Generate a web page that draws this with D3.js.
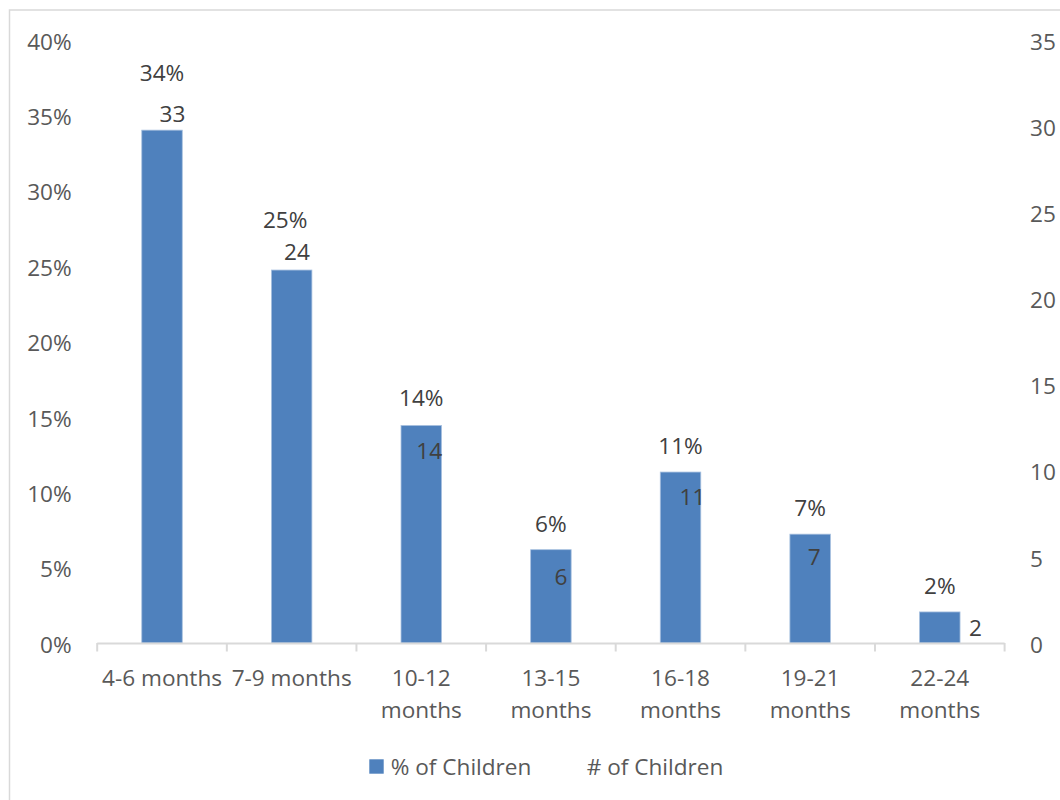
<!DOCTYPE html>
<html>
<head>
<meta charset="utf-8">
<script src="https://cdn.jsdelivr.net/npm/d3@7"></script>
<style>
  html, body { margin: 0; padding: 0; background: #ffffff; }
  svg { display: block; font-family: "Open Sans", sans-serif; }
</style>
</head>
<body>
<svg id="chart" width="1060" height="800"></svg>
<script>
// ---- data ----
const categories = ["4-6 months", "7-9 months", "10-12 months", "13-15 months", "16-18 months", "19-21 months", "22-24 months"];
const pctChildren = [0.3402, 0.2474, 0.1443, 0.0619, 0.1134, 0.0722, 0.0206];
const numChildren = [33, 24, 14, 6, 11, 7, 2];
const leftTicks = [0, 0.05, 0.10, 0.15, 0.20, 0.25, 0.30, 0.35, 0.40];
const rightTicks = [0, 5, 10, 15, 20, 25, 30, 35];
const seriesNames = ["% of Children", "# of Children"];

// ---- layout ----
const L = 97.2, R = 1004.6, T = 40, B = 643;
const barColor = "#4f81bd";
const axisColor = "#d9d9d9";
const tickText = "#595959";
const labelText = "#404040";
const fontSize = 22.6;
// label nudges (pixels relative to bar top / bar centre), as placed in the original
const pctLabelDx = [0, -6.5, 0, 0, 0, 0, 0];
const pctLabelDy = [-56.8, -50, -27.2, -26, -26.3, -26.5, -26.2];
const cntLabelDx = [10.5, 5.4, 7.9, 10.1, 12, 4.1, 35.7];
const cntLabelDy = [-15.8, -18.3, 25.2, 27.3, 24.7, 23.1, 15.8];

const svg = d3.select("#chart");

// outer border
svg.append("rect").attr("x", 9.5).attr("y", 10).attr("width", 1070).attr("height", 800)
  .attr("fill", "none").attr("stroke", axisColor).attr("stroke-width", 1.5);

const step = (R - L) / categories.length;
const barW = 40.5;
const x = d3.scaleBand().domain(categories).range([L, R])
  .paddingInner(1 - barW / step).paddingOuter((1 - barW / step) / 2);
const yL = d3.scaleLinear().domain([0, 0.4]).range([B, T]);
const yR = d3.scaleLinear().domain([0, 35]).range([B, T]);

// left axis labels
const leftAxis = d3.axisLeft(yL).tickValues(leftTicks).tickFormat(d3.format(".0%")).tickSize(0).tickPadding(0);
const gl = svg.append("g").attr("transform", `translate(${71.7},2)`).call(leftAxis);
gl.select(".domain").remove();
gl.selectAll("text").attr("fill", tickText).style("font-size", fontSize + "px").style("font-family", "Open Sans");

// right axis labels
const rightAxis = d3.axisRight(yR).tickValues(rightTicks).tickFormat(d3.format("d")).tickSize(0).tickPadding(0);
const gr = svg.append("g").attr("transform", `translate(${1030},2)`).call(rightAxis);
gr.select(".domain").remove();
gr.selectAll("text").attr("fill", tickText).style("font-size", fontSize + "px").style("font-family", "Open Sans");

// bars
svg.append("g").selectAll("rect").data(categories).join("rect")
  .attr("x", d => x(d)).attr("width", x.bandwidth())
  .attr("y", (d, i) => yL(pctChildren[i]))
  .attr("height", (d, i) => B - yL(pctChildren[i]))
  .attr("fill", barColor)
  .attr("stroke", "#a7c0df").attr("stroke-width", 0.8);

// x axis line & ticks
const gx = svg.append("g");
gx.append("line").attr("x1", L).attr("x2", R).attr("y1", B + 0.5).attr("y2", B + 0.5)
  .attr("stroke", axisColor).attr("stroke-width", 2);
const bounds = d3.range(categories.length + 1).map(i => L + i * step);
gx.selectAll("line.tk").data(bounds).join("line").attr("class", "tk")
  .attr("x1", d => d).attr("x2", d => d).attr("y1", B).attr("y2", B + 8.5)
  .attr("stroke", axisColor).attr("stroke-width", 2);

// x category labels (wrapped like the original)
const lineH = 31.7;
categories.forEach((c, i) => {
  const cx = x(c) + x.bandwidth() / 2;
  const lines = i < 2 ? [c] : c.split(" ");
  const t = svg.append("text").attr("x", cx).attr("y", 678.3).attr("text-anchor", "middle")
    .attr("fill", tickText).style("font-size", fontSize + "px");
  lines.forEach((ln, k) => t.append("tspan").attr("x", cx).attr("dy", k === 0 ? "0.35em" : lineH).text(ln));
});

// percentage labels
svg.append("g").selectAll("text").data(categories).join("text")
  .attr("x", (d, i) => x(d) + x.bandwidth() / 2 + pctLabelDx[i])
  .attr("y", (d, i) => yL(pctChildren[i]) + pctLabelDy[i])
  .attr("dy", "0.35em").attr("text-anchor", "middle")
  .attr("fill", labelText).style("font-size", fontSize + "px")
  .text((d, i) => d3.format(".0%")(pctChildren[i]));

// count labels
svg.append("g").selectAll("text").data(categories).join("text")
  .attr("x", (d, i) => x(d) + x.bandwidth() / 2 + cntLabelDx[i])
  .attr("y", (d, i) => yL(pctChildren[i]) + cntLabelDy[i])
  .attr("dy", "0.35em").attr("text-anchor", "middle")
  .attr("fill", labelText).style("font-size", fontSize + "px")
  .text((d, i) => numChildren[i]);

// legend
const lg = svg.append("g");
lg.append("rect").attr("x", 369.3).attr("y", 759.3).attr("width", 14.4).attr("height", 14.4).attr("fill", barColor);
lg.append("text").attr("x", 390.7).attr("y", 766.7).attr("dy", "0.35em").attr("fill", tickText)
  .style("font-size", fontSize + "px").text(seriesNames[0]);
lg.append("text").attr("x", 586.7).attr("y", 766.7).attr("dy", "0.35em").attr("fill", tickText)
  .style("font-size", fontSize + "px").text(seriesNames[1]);
</script>
</body>
</html>
